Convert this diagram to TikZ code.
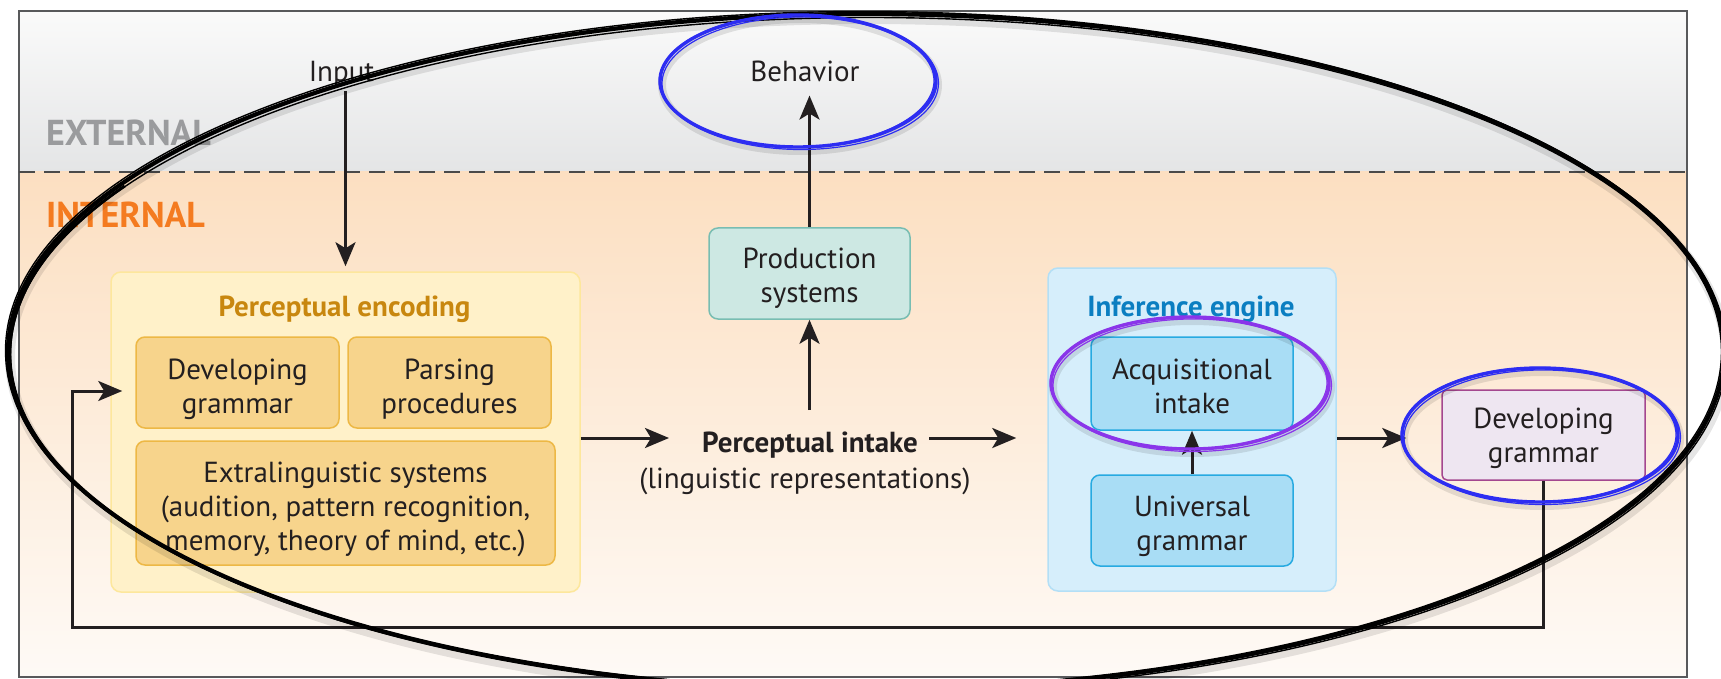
\documentclass[tikz,border=0pt]{standalone}
\usepackage{fontspec}
\setmainfont{PT Sans}
\usetikzlibrary{arrows.meta,calc}
\definecolor{txt}{HTML}{231F20}
\definecolor{framec}{HTML}{58595B}
\definecolor{dashc}{HTML}{4A4A4A}
\definecolor{exttop}{HTML}{FAFAFA}
\definecolor{extbot}{HTML}{E4E5E6}
\definecolor{intop}{HTML}{FCDFC1}
\definecolor{inmid}{HTML}{FDEBDA}
\definecolor{inbot}{HTML}{FEFAF6}
\definecolor{extgray}{HTML}{9A9B9D}
\definecolor{intorange}{HTML}{F47B20}
\definecolor{encfill}{HTML}{FFF1C9}
\definecolor{encdraw}{HTML}{FDE79C}
\definecolor{subfill}{HTML}{F7D48C}
\definecolor{subdraw}{HTML}{EDB845}
\definecolor{enctitle}{HTML}{C8870F}
\definecolor{prodfill}{HTML}{CDE8E3}
\definecolor{proddraw}{HTML}{78BDB2}
\definecolor{inffill}{HTML}{D6EEFB}
\definecolor{infdraw}{HTML}{B3DFF6}
\definecolor{aifill}{HTML}{A9DDF5}
\definecolor{aidraw}{HTML}{27AAE1}
\definecolor{inftitle}{HTML}{0B7EC1}
\definecolor{dgfill}{HTML}{EEE6F1}
\definecolor{dgdraw}{HTML}{A4478F}
\definecolor{penblue}{HTML}{2D2DF2}
\definecolor{penpurple}{HTML}{8A35EA}
\newcommand{\penellipse}[5]{%
  \draw[black, opacity=0.10, line width=8pt] (#2+2,#3+4) ellipse [x radius=#4pt, y radius=#5pt];
  \draw[#1, line width=3.4pt] (#2,#3) ellipse [x radius=#4pt, y radius=#5pt];
  \draw[#1, line width=1.2pt, rotate around={0.8:(#2,#3)}] (#2,#3+1) ellipse [x radius=#4pt-2pt, y radius=#5pt-1pt];
  \draw[#1, line width=1.2pt, rotate around={-0.6:(#2,#3)}] (#2+1,#3+1) ellipse [x radius=#4pt+1.5pt, y radius=#5pt+1.5pt];
}
\begin{document}
\begin{tikzpicture}[x=1pt,y=-1pt,
  every node/.style={text=txt, font=\fontsize{29}{34}\selectfont, inner sep=0pt},
  boldtxt/.style={font=\fontsize{29}{34}\selectfont\bfseries},
  zonelab/.style={anchor=base west, font=\fontsize{36}{40}\selectfont\bfseries},
  outerbox/.style={draw, rounded corners=10pt, line width=1.5pt},
  innerbox/.style={draw, rounded corners=9pt, line width=1.5pt},
  boxtext/.style={align=center},
  arr/.style={draw=txt, line width=3pt, -{Stealth[length=24pt,width=20pt,inset=6pt]}},
]
\useasboundingbox (0,0) rectangle (1721,679);
\fill[white] (0,0) rectangle (1721,679);
% zones
\shade[top color=exttop, bottom color=extbot] (19,11) rectangle (1687,172);
\shade[top color=intop, middle color=inmid, bottom color=inbot] (19,172) rectangle (1687,677);
\draw[framec, line width=2pt] (19,11) rectangle (1687,677);
\draw[dashc, line width=2.2pt, dash pattern=on 16pt off 9pt] (19,172) -- (1687,172);
\node[zonelab, text=extgray] (extlab) at (46,146) {EXTERNAL};
\node[zonelab, text=intorange] (intlab) at (46,227) {INTERNAL};
% top texts
\node[anchor=base] (input) at (341.5,82) {Input};
\node[anchor=base] (beh) at (805,82) {Behavior};
% perceptual encoding
\node[outerbox, fill=encfill, draw=encdraw, minimum width=469pt, minimum height=320pt] (enc) at (345.5,432) {};
\node[boldtxt, anchor=base, text=enctitle] (enct) at (344.5,316) {Perceptual encoding};
\node[innerbox, fill=subfill, draw=subdraw, minimum width=203pt, minimum height=91pt] (dgl) at (237.5,382.5) {};
\node[boxtext] (dglt) at ($(dgl)+(0,6.5)$) {Developing\\grammar};
\node[innerbox, fill=subfill, draw=subdraw, minimum width=203pt, minimum height=91pt] (pp) at (449.5,382.5) {};
\node[boxtext] (ppt) at ($(pp)+(0,6.5)$) {Parsing\\procedures};
\node[innerbox, fill=subfill, draw=subdraw, minimum width=419pt, minimum height=124pt] (exs) at (345.5,503) {};
\node[boxtext] (exst) at ($(exs)+(0,6)$) {Extralinguistic systems\\(audition, pattern recognition,\\memory, theory of mind, etc.)};
% production
\node[innerbox, fill=prodfill, draw=proddraw, minimum width=201pt, minimum height=91pt] (prod) at (809.5,273.5) {};
\node[boxtext] (prodt) at ($(prod)+(0,5)$) {Production\\systems};
% intake
\node[boldtxt, anchor=base] (pi) at (810,452) {Perceptual intake};
\node[anchor=base] (pir) at (805,488) {(linguistic representations)};
% inference engine
\node[outerbox, fill=inffill, draw=infdraw, minimum width=288pt, minimum height=323pt] (inf) at (1192,429.5) {};
\node[boldtxt, anchor=base, text=inftitle] (inft) at (1191,316) {Inference engine};
\node[innerbox, fill=aifill, draw=aidraw, minimum width=202pt, minimum height=93pt] (ai) at (1192,383.5) {};
\node[boxtext] (ait) at ($(ai)+(0,2.5)$) {Acquisitional\\intake};
\node[innerbox, fill=aifill, draw=aidraw, minimum width=202pt, minimum height=91pt] (ug) at (1192,520.5) {};
\node[boxtext] (ugt) at ($(ug)+(0,5.5)$) {Universal\\grammar};
% developing grammar (output)
\node[draw=dgdraw, fill=dgfill, line width=1.5pt, rounded corners=5pt, minimum width=203pt, minimum height=90pt] (dgr) at (1543.5,435) {};
\node[boxtext] (dgrt) at ($(dgr)+(0,3.5)$) {Developing\\grammar};
% connectors
\coordinate (row) at (0,438);
\coordinate (fb) at (72,627);
\draw[arr, shorten <=3pt, shorten >=5pt] (enc.north |- input.south) -- (enc.north);
\draw[arr, shorten >=13pt] (prod.north) -- (prod.north |- beh.south);
\draw[arr, shorten <=21pt] (prod.south |- pi.north) -- (prod.south);
\draw[arr, shorten >=33pt] (enc.east |- row) -- (pi.west |- row);
\draw[arr, shorten <=11pt, shorten >=31pt] (pi.east |- row) -- (inf.west |- row);
\draw[arr, shorten >=35pt] (inf.east |- row) -- (dgr.west |- row);
\draw[arr] (ug.north) -- (ai.south);
\draw[arr, shorten >=13pt] (dgr.south) |- (fb) |- ($(dgl.west)+(0,8.5)$);
% hand-drawn annotations
\draw[black, opacity=0.10, line width=10pt] (868,357) ellipse [x radius=858pt, y radius=338pt];
\draw[black, line width=4.2pt] (866,352) ellipse [x radius=858pt, y radius=338pt];
\draw[black, line width=1.4pt, rotate around={0.12:(866,352)}] (866,353) ellipse [x radius=855.5pt, y radius=335.5pt];
\draw[black, line width=1.4pt, rotate around={-0.1:(866,352)}] (866,352) ellipse [x radius=860.5pt, y radius=340.5pt];
\draw[black, line width=3pt] (866,354) ++(150:856pt and 336pt) arc [start angle=150, end angle=285, x radius=856pt, y radius=336pt];
\penellipse{penblue}{798}{81}{138}{66}
\penellipse{penpurple}{1190}{383}{139}{66}
\penellipse{penblue}{1540}{435}{138}{67}
\end{tikzpicture}
\end{document}
